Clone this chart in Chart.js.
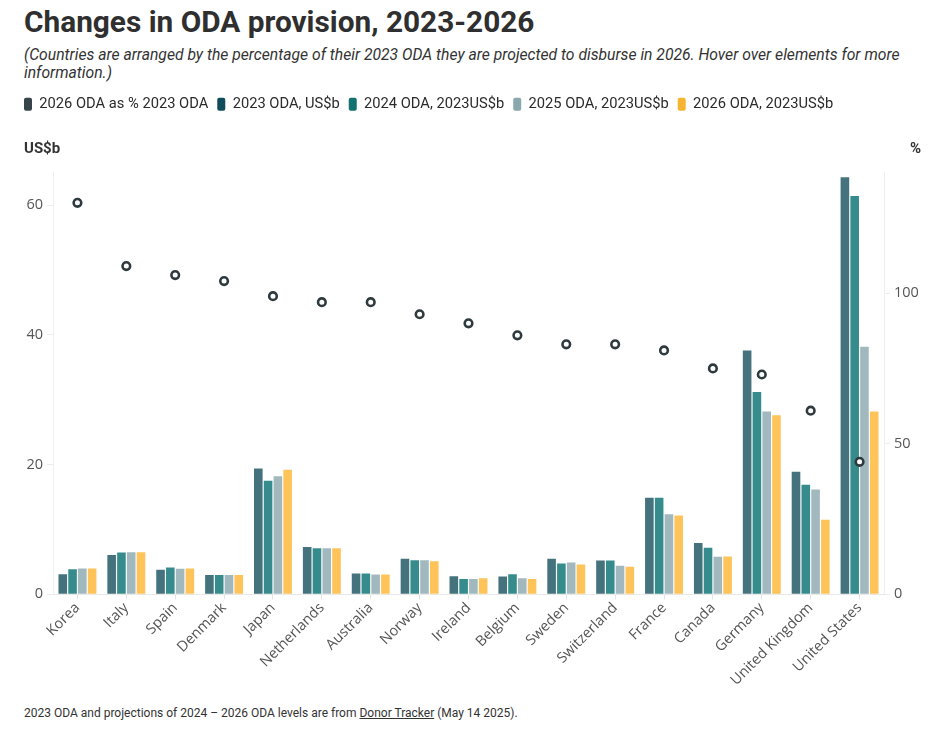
<!DOCTYPE html>
<html>
<head>
<meta charset="utf-8">
<script src="https://cdn.jsdelivr.net/npm/chart.js@4.4.1/dist/chart.umd.min.js"></script>
<style>
  html, body { margin: 0; padding: 0; background: #fff; }
  body { width: 944px; height: 734px; position: relative; overflow: hidden;
         font-family: "Roboto", sans-serif; color: #2b2b2b; }
  #title { position: absolute; left: 24px; top: 4px; font-size: 29.8px; font-weight: bold; color: #2f2f2f; white-space: nowrap; }
  #subtitle { position: absolute; left: 24px; top: 46px; font-size: 15.7px; font-style: italic; color: #333; line-height: 18px; white-space: nowrap; }
  #wrap { position: absolute; left: 0; top: 88px; width: 944px; height: 612px; }
  #footer { position: absolute; left: 24px; top: 706px; font-size: 12px; color: #333; white-space: nowrap; }
  #footer u { text-decoration: underline; }
</style>
</head>
<body>
<div id="title">Changes in ODA provision, 2023-2026</div>
<div id="subtitle">(Countries are arranged by the percentage of their 2023 ODA they are projected to disburse in 2026. Hover over elements for more<br>information.)</div>
<div id="wrap"><canvas id="chart"></canvas></div>
<div id="footer">2023 ODA and projections of 2024 – 2026 ODA levels are from <u>Donor Tracker</u> (May 14 2025).</div>

<script>
// Countries sorted by 2026 ODA as % of 2023 ODA
const countries = ['Korea', 'Italy', 'Spain', 'Denmark', 'Japan', 'Netherlands', 'Australia', 'Norway',
    'Ireland', 'Belgium', 'Sweden', 'Switzerland', 'France', 'Canada', 'Germany', 'United Kingdom', 'United States'];

const oda2023 = [3.1, 6.05, 3.8, 3.0, 19.4, 7.3, 3.2, 5.5, 2.8, 2.75, 5.5, 5.2, 14.9, 7.9, 37.6, 18.9, 64.3];
const oda2024 = [3.85, 6.45, 4.15, 3.0, 17.5, 7.1, 3.2, 5.25, 2.35, 3.1, 4.75, 5.2, 14.9, 7.2, 31.2, 16.9, 61.4];
const oda2025 = [4.0, 6.5, 3.95, 3.0, 18.2, 7.1, 3.05, 5.25, 2.35, 2.5, 4.9, 4.4, 12.35, 5.8, 28.2, 16.15, 38.15];
const oda2026 = [4.0, 6.5, 4.0, 3.0, 19.2, 7.1, 3.05, 5.1, 2.5, 2.35, 4.6, 4.25, 12.15, 5.85, 27.6, 11.5, 28.2];
const pct2026 = [130, 109, 106, 104, 99, 97, 97, 93, 90, 86, 83, 83, 81, 75, 73, 61, 44];

const leftTicks = [0, 20, 40, 60];
const rightTicks = [0, 50, 100];

const legendColors = ['#37454a', '#0f4b5a', '#13716f', '#8aa8ae', '#f5b432'];
const tickFont = { family: "'Open Sans', sans-serif", size: 14.5 };

// extra room between legend and plot
const legendGap = {
    id: 'legendGap',
    beforeInit(chart) {
        const fit = chart.legend.fit;
        chart.legend.fit = function() {
            fit.bind(chart.legend)();
            this.height += 51;
        };
    }
};

// horizontal axis titles above each y axis
const axisTitles = {
    id: 'axisTitles',
    afterDraw(chart) {
        const ctx = chart.ctx;
        const y = chart.chartArea.top - 23;
        ctx.save();
        ctx.font = "bold 15px Roboto, sans-serif";
        ctx.fillStyle = '#333';
        ctx.textBaseline = 'middle';
        ctx.textAlign = 'left';
        ctx.fillText('US$b', 24, y);
        ctx.textAlign = 'right';
        ctx.fillText('%', 921, y);
        ctx.restore();
    }
};

new Chart(document.getElementById('chart'), {
    data: {
        labels: countries,
        datasets: [
            {
                type: 'line',
                label: '2026 ODA as % 2023 ODA',
                data: pct2026,
                yAxisID: 'y1',
                showLine: false,
                order: 0,
                pointRadius: 3.8,
                pointBorderWidth: 2.6,
                pointBackgroundColor: '#ffffff',
                pointBorderColor: '#2f3a3f'
            },
            { type: 'bar', label: '2023 ODA, US$b', data: oda2023, yAxisID: 'y', order: 1, backgroundColor: 'rgba(15,75,90,0.78)' },
            { type: 'bar', label: '2024 ODA, 2023US$b', data: oda2024, yAxisID: 'y', order: 1, backgroundColor: 'rgba(19,120,120,0.85)' },
            { type: 'bar', label: '2025 ODA, 2023US$b', data: oda2025, yAxisID: 'y', order: 1, backgroundColor: 'rgba(138,168,174,0.8)' },
            { type: 'bar', label: '2026 ODA, 2023US$b', data: oda2026, yAxisID: 'y', order: 1, backgroundColor: 'rgba(254,184,60,0.85)' }
        ]
    },
    options: {
        responsive: true,
        maintainAspectRatio: false,
        animation: false,
        datasets: {
            bar: { categoryPercentage: 0.8, barPercentage: 0.88 }
        },
        layout: { padding: { left: 15, right: 23, top: 0, bottom: 11 } },
        plugins: {
            legend: {
                display: true,
                position: 'top',
                align: 'start',
                labels: {
                    boxWidth: 8,
                    boxHeight: 13,
                    padding: 9,
                    useBorderRadius: true,
                    borderRadius: 2,
                    color: '#2b2b2b',
                    font: { family: "Roboto, sans-serif", size: 14.7 },
                    generateLabels(chart) {
                        const items = Chart.defaults.plugins.legend.labels.generateLabels(chart);
                        items.forEach(item => {
                            item.fillStyle = legendColors[item.datasetIndex];
                            item.strokeStyle = legendColors[item.datasetIndex];
                            item.lineWidth = 0;
                            item.pointStyle = undefined;
                        });
                        return items;
                    }
                }
            },
            tooltip: { enabled: true }
        },
        scales: {
            x: {
                grid: { display: true, drawOnChartArea: false, offset: false, color: '#e4e4e4', tickLength: 5 },
                border: { color: '#e8e8e8' },
                ticks: {
                    font: tickFont,
                    color: '#555',
                    minRotation: 45,
                    maxRotation: 45,
                    autoSkip: false,
                    padding: 0
                }
            },
            y: {
                position: 'left',
                min: 0,
                max: 65,
                afterBuildTicks(axis) { axis.ticks = leftTicks.map(v => ({ value: v })); },
                afterFit(axis) { axis.width = 38; },
                grid: { display: true, drawOnChartArea: false, color: '#ececec', tickLength: 6 },
                border: { color: '#efefef' },
                ticks: { font: tickFont, color: '#555', padding: 4 }
            },
            y1: {
                position: 'right',
                min: 0,
                max: 140,
                afterBuildTicks(axis) { axis.ticks = rightTicks.map(v => ({ value: v })); },
                afterFit(axis) { axis.width = 37; },
                grid: { display: true, drawOnChartArea: false, color: '#ececec', tickLength: 6 },
                border: { color: '#efefef' },
                ticks: { font: tickFont, color: '#555', padding: 4 }
            }
        }
    },
    plugins: [legendGap, axisTitles]
});
</script>
</body>
</html>
